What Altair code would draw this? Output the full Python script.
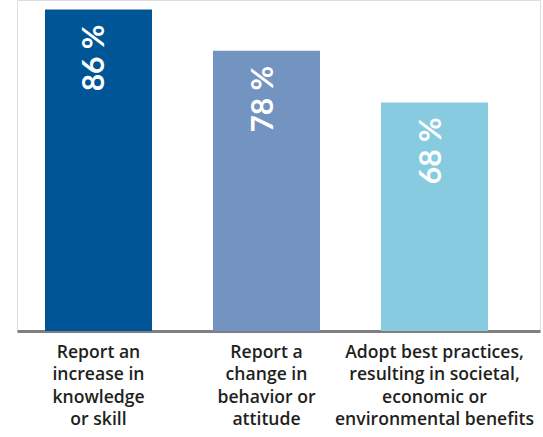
import altair as alt
import pandas as pd

categories = [
    "Report an|increase in|knowledge|or skill",
    "Report a|change in|behavior or|attitude",
    "Adopt best practices,|resulting in societal,|economic or|environmental benefits",
]
values = [86, 78, 68]
colors = ["#005596", "#7393c0", "#87cbe0"]

df = pd.DataFrame({"cat": categories, "value": values, "color": colors})

x = alt.X("cat:N", sort=categories, title=None,
          scale=alt.Scale(paddingInner=0.363, paddingOuter=0.238, align=0.35),
          axis=alt.Axis(labelAngle=0, labelExpr="split(datum.label, '|')",
                        labelFont="Open Sans", labelFontWeight=600, labelFontSize=17.6,
                        labelLineHeight=22.5, labelColor="#231f20", labelPadding=12,
                        labelBaseline="top", ticks=False, domainColor="#7f7f7f",
                        domainWidth=3, labelLimit=300))
y = alt.Y("value:Q", scale=alt.Scale(domain=[23.7, 87.86], zero=False, nice=False),
          axis=None)

bars = alt.Chart(df).mark_bar(clip=True).encode(
    x=x, y=y, color=alt.Color("color:N", scale=None)
)

labels = alt.Chart(df).transform_calculate(
    lab="datum.value + ' %'"
).mark_text(angle=270, align="right", baseline="middle", dx=-15, dy=-3,
            font="Lato", fontWeight="bold", fontSize=30, color="white").encode(
    x=alt.X("cat:N", sort=categories), y=y, text="lab:N"
)

chart = (bars + labels).properties(
    width=523, height=331,
    autosize=alt.AutoSizeParams(type="none"),
    padding={"left": 17, "top": 0, "right": 3, "bottom": 106},
).configure_view(stroke=None).configure(background="white")

chart.save("out.html", embed_options={"renderer": "svg", "actions": False})
